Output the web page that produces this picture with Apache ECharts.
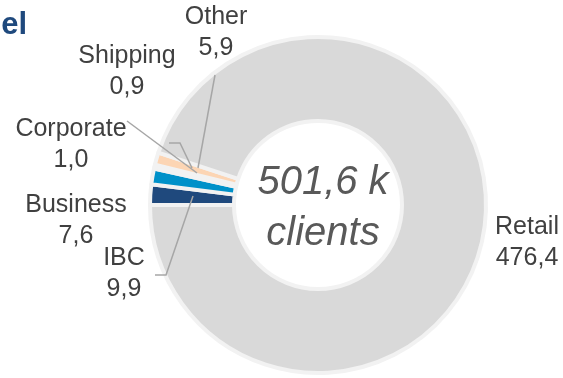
<!DOCTYPE html>
<html>
<head>
<meta charset="utf-8">
<script src="https://cdn.jsdelivr.net/npm/echarts@6/dist/echarts.min.js"></script>
<style>
html,body{margin:0;padding:0;background:#fff;}
#chart{width:563px;height:378px;}
</style>
</head>
<body>
<div id="chart"></div>
<script>
// ---- data ----
const categories = ['IBC', 'Business', 'Corporate', 'Shipping', 'Other', 'Retail'];
const values = [9.9, 7.6, 1.0, 0.9, 5.9, 476.4];
const totalText = '501,6 k';
const totalUnit = 'clients';
const titleText = 'el';

// ---- styles / layout ----
const palette = ['#1f497d', '#0091c9', '#f2f2f2', '#f2f2f2', '#fcd5b4', '#d9d9d9'];
const labelPos = [
  {x: 124, y: 274, line: [[155, 275], [166, 275], [193, 196]]},
  {x: 76,  y: 221, line: null},
  {x: 71,  y: 145, line: [[169, 143], [180, 143], [192, 168]]},
  {x: 127, y: 72,  line: [[127, 121], [197, 173]]},
  {x: 216, y: 33,  line: [[215, 75], [198, 168]]},
  {x: 527, y: 243, line: null}
];

const chart = echarts.init(document.getElementById('chart'), null, {renderer: 'canvas'});
const fmt = v => v.toFixed(1).replace('.', ',');

const leaderLines = labelPos.filter(L => L.line).map(L => ({
  type: 'polyline', z: 100, silent: true,
  shape: {points: L.line},
  style: {stroke: '#a6a6a6', lineWidth: 1.5, fill: null}
}));

chart.setOption({
  animation: false,
  backgroundColor: '#ffffff',
  series: [{
    type: 'pie',
    center: [318, 205],
    radius: [84, 168],
    startAngle: 180,
    clockwise: true,
    avoidLabelOverlap: false,
    silent: true,
    itemStyle: {borderColor: '#f2f2f2', borderWidth: 4},
    label: {
      show: true,
      position: 'outside',
      formatter: p => p.name + '\n' + fmt(p.value),
      fontFamily: 'Liberation Sans, Arial, sans-serif',
      fontSize: 25,
      lineHeight: 31,
      color: '#404040'
    },
    labelLine: {show: false},
    labelLayout: function (p) {
      const L = labelPos[p.dataIndex];
      return {x: L.x, y: L.y, align: 'center', verticalAlign: 'middle'};
    },
    data: categories.map((c, i) => ({
      name: c,
      value: values[i],
      itemStyle: {color: palette[i]}
    }))
  }],
  graphic: leaderLines.concat([
    {type: 'text', x: 323, y: 183, z: 100, silent: true,
     style: {text: totalText, textAlign: 'center', textVerticalAlign: 'middle',
             font: 'italic 40px "Liberation Sans", Arial, sans-serif', fill: '#595959'}},
    {type: 'text', x: 323, y: 234, z: 100, silent: true,
     style: {text: totalUnit, textAlign: 'center', textVerticalAlign: 'middle',
             font: 'italic 40px "Liberation Sans", Arial, sans-serif', fill: '#595959'}},
    {type: 'text', x: 27, y: 25, z: 100, silent: true,
     style: {text: titleText, textAlign: 'right', textVerticalAlign: 'middle',
             font: 'bold 31px "Liberation Sans", Arial, sans-serif', fill: '#1f497d'}}
  ])
});
</script>
</body>
</html>
